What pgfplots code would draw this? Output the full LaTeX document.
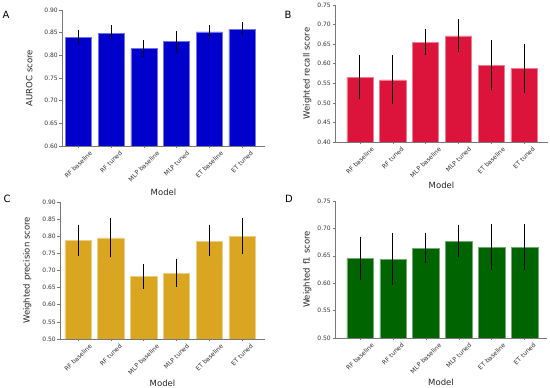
\documentclass[border=0pt]{standalone}
\usepackage{fontspec}
\setmainfont{DejaVu Sans}
\setsansfont{DejaVu Sans}
\usepackage{graphicx}
\usepackage{pgfplots}
\usepackage{pgfplotstable}
\pgfplotsset{compat=1.18}
\definecolor{cA}{RGB}{0,0,205}
\definecolor{cB}{RGB}{220,20,60}
\definecolor{cC}{RGB}{218,165,32}
\definecolor{cD}{RGB}{0,100,0}
\definecolor{spine}{RGB}{120,120,120}

\pgfplotstableread{
x y hi lo
0 0.839 0.856 0.824
1 0.848 0.866 0.835
2 0.815 0.834 0.797
3 0.830 0.854 0.806
4 0.852 0.866 0.837
5 0.858 0.873 0.845
}\tA
\pgfplotstableread{
x y hi lo
0 0.565 0.622 0.509
1 0.559 0.622 0.496
2 0.655 0.688 0.623
3 0.671 0.713 0.630
4 0.595 0.660 0.532
5 0.588 0.651 0.524
}\tB
\pgfplotstableread{
x y hi lo
0 0.787 0.834 0.743
1 0.795 0.854 0.739
2 0.683 0.719 0.646
3 0.692 0.735 0.653
4 0.785 0.834 0.741
5 0.800 0.854 0.749
}\tC
\pgfplotstableread{
x y hi lo
0 0.645 0.685 0.605
1 0.644 0.692 0.597
2 0.663 0.691 0.637
3 0.676 0.707 0.647
4 0.666 0.708 0.624
5 0.666 0.708 0.624
}\tD

\newcommand\rl[1]{\rotatebox{45}{#1}}

\pgfplotsset{
  panel/.style={
    scale only axis,
    anchor=south west,
    axis lines*=left,
    axis line style={spine, line width=0.6pt, -},
    tick style={spine, line width=0.5pt},
    major tick length=2.5pt,
    tick align=outside,
    xtick={0,1,2,3,4,5},
    xticklabels={\rl{RF baseline},\rl{RF tuned},\rl{MLP baseline},\rl{MLP tuned},\rl{ET baseline},\rl{ET tuned}},
    x tick label style={anchor=north, inner sep=1.5pt, font=\fontsize{6.2}{7}\selectfont, text=black!80},
    y tick label style={font=\fontsize{6}{7}\selectfont, text=black!80, inner sep=1.5pt},
    yticklabel style={/pgf/number format/.cd, fixed, fixed zerofill, precision=2, assume math mode=true},
    xlabel={Model},
    label style={font=\fontsize{8.5}{10}\selectfont, text=black!85},
    clip=true,
  },
  bars/.style={
    ybar, bar width=0.8, bar shift=0pt,
    fill=#1, draw=#1!55!white, line width=0.5pt,
    error bars/.cd, y dir=both, y explicit,
    error mark=none,
    error bar style={black, line width=0.9pt},
  },
}

\begin{document}
\begin{tikzpicture}
\useasboundingbox (0pt,0pt) rectangle (550pt,388pt);

% A
\begin{axis}[panel, at={(62pt,242pt)}, width=203pt, height=136pt,
  xmin=-0.5, xmax=5.7, ymin=0.60, ymax=0.90, ytick={0.60,0.65,...,0.91},
  ylabel={AUROC score}, ylabel style={yshift=7pt}, xlabel style={yshift=-2pt}]
\addplot[bars=cA] table[x=x, y=y, y error plus expr=\thisrow{hi}-\thisrow{y}, y error minus expr=\thisrow{y}-\thisrow{lo}] {\tA};
\end{axis}
\node[font=\fontsize{10}{12}\selectfont] at (6pt,373pt) {A};

% B
\begin{axis}[panel, at={(335pt,246pt)}, width=213pt, height=137pt,
  xmin=-0.76, xmax=5.73, ymin=0.40, ymax=0.75, ytick={0.40,0.45,...,0.76},
  ylabel={Weighted recall score}, ylabel style={yshift=1pt}, xlabel style={yshift=1pt}]
\addplot[bars=cB] table[x=x, y=y, y error plus expr=\thisrow{hi}-\thisrow{y}, y error minus expr=\thisrow{y}-\thisrow{lo}] {\tB};
\end{axis}
\node[font=\fontsize{10}{12}\selectfont] at (288pt,373pt) {B};

% C
\begin{axis}[panel, at={(60pt,49pt)}, width=205pt, height=137pt,
  xmin=-0.55, xmax=5.7, ymin=0.50, ymax=0.90, ytick={0.50,0.55,...,0.91},
  ylabel={Weighted precision score}, ylabel style={yshift=6pt}, xlabel style={yshift=0pt}]
\addplot[bars=cC] table[x=x, y=y, y error plus expr=\thisrow{hi}-\thisrow{y}, y error minus expr=\thisrow{y}-\thisrow{lo}] {\tC};
\end{axis}
\node[font=\fontsize{10}{12}\selectfont] at (7pt,189pt) {C};

% D
\begin{axis}[panel, at={(335pt,50pt)}, width=212pt, height=137pt,
  xmin=-0.76, xmax=5.68, ymin=0.50, ymax=0.75, ytick={0.50,0.55,...,0.76},
  ylabel={Weighted f1 score}, ylabel style={yshift=1pt}, xlabel style={yshift=0pt}]
\addplot[bars=cD] table[x=x, y=y, y error plus expr=\thisrow{hi}-\thisrow{y}, y error minus expr=\thisrow{y}-\thisrow{lo}] {\tD};
\end{axis}
\node[font=\fontsize{10}{12}\selectfont] at (289pt,189pt) {D};
\end{tikzpicture}
\end{document}
